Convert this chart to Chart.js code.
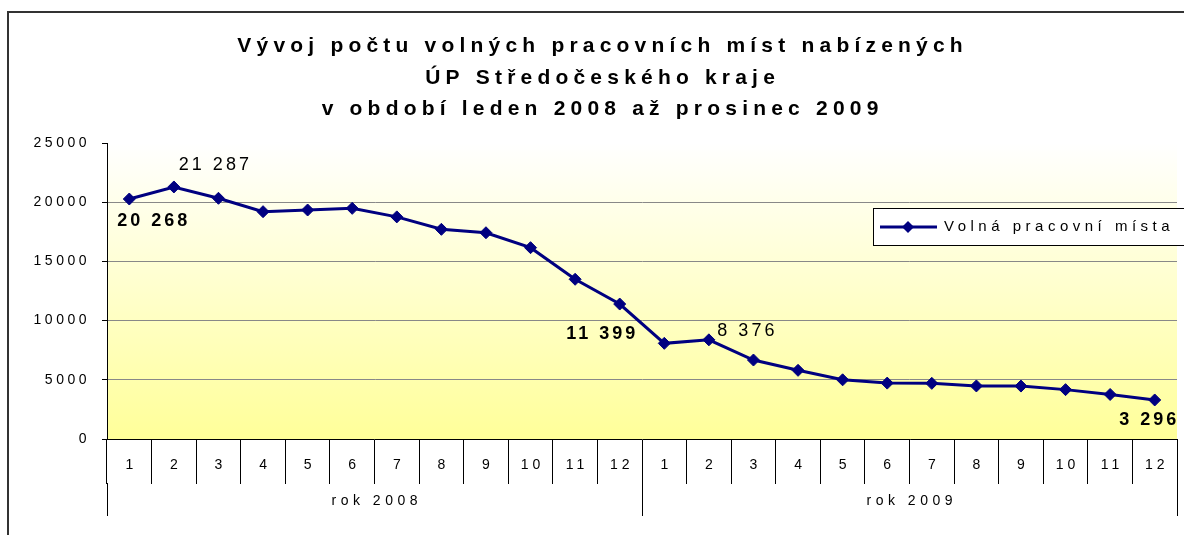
<!DOCTYPE html>
<html>
<head>
<meta charset="utf-8">
<script src="https://cdn.jsdelivr.net/npm/chart.js@4.4.1/dist/chart.umd.min.js"></script>
<style>
  html, body { margin: 0; padding: 0; background: #fff; }
  canvas { display: block; }
</style>
</head>
<body>
<canvas id="vacancyChart" width="1184" height="535"></canvas>
<script>
// data
const months = ['1','2','3','4','5','6','7','8','9','10','11','12',
                '1','2','3','4','5','6','7','8','9','10','11','12'];
const years = ['rok 2008', 'rok 2009'];
const vacancies = [20268, 21287, 20330, 19200, 19340, 19480, 18760, 17710, 17420, 16160, 13490, 11399,
                   8080, 8376, 6670, 5800, 5000, 4720, 4700, 4480, 4470, 4170, 3760, 3296];
const yTicks = [0, 5000, 10000, 15000, 20000, 25000];
const seriesName = 'Volná pracovní místa';
const titleLines = [
  'Vývoj počtu volných pracovních míst nabízených',
  'ÚP Středočeského kraje',
  'v období leden 2008 až prosinec 2009'
];

const FONT = '"Liberation Sans", Arial, sans-serif';
const NAVY = '#000080';

// which points carry a value label, and where it sits relative to the point
const pointLabels = [
  {i: 0,  dx: 23,  dy: 22,  bold: true},
  {i: 1,  dx: 40,  dy: -22, bold: false},
  {i: 11, dx: -19, dy: 30,  bold: true},
  {i: 13, dx: 37,  dy: -9,  bold: false},
  {i: 23, dx: -7,  dy: 20,  bold: true},
];

const fmt = v => String(v).replace(/\B(?=(\d{3})+(?!\d))/g, ' ');

function spacedText(ctx, text, x, y, font, spacing, align) {
  ctx.save();
  ctx.font = font;
  ctx.letterSpacing = spacing + 'px';
  ctx.fillStyle = '#000';
  ctx.textBaseline = 'middle';
  let w = ctx.measureText(text).width - spacing; // drop trailing space
  let left = align === 'left' ? x : (align === 'right' ? x - w : x - w / 2);
  ctx.textAlign = 'left';
  ctx.fillText(text, left, y);
  ctx.restore();
}

// yellow gradient behind the plot
const plotBackground = {
  id: 'plotBackground',
  beforeDraw(chart) {
    const {ctx, chartArea: a} = chart;
    ctx.save();
    ctx.fillStyle = '#fff';
    ctx.fillRect(0, 0, chart.width, chart.height);
    const g = ctx.createLinearGradient(0, a.top, 0, a.bottom);
    g.addColorStop(0, '#ffffff');
    g.addColorStop(1, '#ffff99');
    ctx.fillStyle = g;
    ctx.fillRect(a.left, a.top, a.right - a.left, a.bottom - a.top);
    ctx.restore();
    ctx.letterSpacing = '3.5px';
  }
};

// title, grouped x axis, value labels, legend and outer frame
const decorations = {
  id: 'decorations',
  afterDraw(chart) {
    const {ctx, chartArea: a} = chart;
    const x = chart.scales.x;
    ctx.letterSpacing = '0px';

    // title
    const titleY = [46, 78, 109];
    titleLines.forEach((t, k) => spacedText(ctx, t, 600, titleY[k], 'bold 21px ' + FONT, 5.2, 'center'));

    // month labels
    const half = (x.getPixelForValue(1) - x.getPixelForValue(0)) / 2;
    months.forEach((m, i) => spacedText(ctx, m, x.getPixelForValue(i), a.bottom + 26, '14px ' + FONT, 4, 'center'));

    // year groups
    ctx.save();
    ctx.strokeStyle = '#000';
    ctx.lineWidth = 1;
    years.forEach((yr, k) => {
      const l = x.getPixelForValue(k * 12) - half;
      const r = x.getPixelForValue(k * 12 + 11) + half;
      spacedText(ctx, yr, (l + r) / 2, a.bottom + 62, '14px ' + FONT, 4.5, 'center');
      [l, r].forEach(px => {
        ctx.beginPath();
        ctx.moveTo(Math.round(px) + 0.5, a.bottom + 44);
        ctx.lineTo(Math.round(px) + 0.5, a.bottom + 77);
        ctx.stroke();
      });
    });
    ctx.restore();

    // value labels
    const meta = chart.getDatasetMeta(0);
    pointLabels.forEach(p => {
      const pt = meta.data[p.i];
      spacedText(ctx, fmt(vacancies[p.i]), pt.x + p.dx, pt.y + p.dy,
        (p.bold ? 'bold ' : '') + '18px ' + FONT, 3, 'center');
    });

    // legend
    ctx.save();
    ctx.fillStyle = '#fff';
    ctx.fillRect(873, 208, 320, 37);
    ctx.strokeStyle = '#000';
    ctx.lineWidth = 1;
    ctx.strokeRect(873.5, 208.5, 320, 37);
    ctx.strokeStyle = NAVY;
    ctx.lineWidth = 3;
    ctx.beginPath();
    ctx.moveTo(880, 227);
    ctx.lineTo(937, 227);
    ctx.stroke();
    ctx.fillStyle = NAVY;
    ctx.beginPath();
    ctx.moveTo(908, 221); ctx.lineTo(914, 227); ctx.lineTo(908, 233); ctx.lineTo(902, 227);
    ctx.closePath();
    ctx.fill();
    ctx.restore();
    spacedText(ctx, seriesName, 944, 227, '15px ' + FONT, 4.5, 'left');

    // outer frame
    ctx.save();
    ctx.strokeStyle = '#333';
    ctx.lineWidth = 2;
    ctx.strokeRect(8, 12, 1200, 540);
    ctx.restore();
  }
};

const chart = new Chart(document.getElementById('vacancyChart'), {
  type: 'line',
  data: {
    labels: months,
    datasets: [{
      label: seriesName,
      data: vacancies,
      borderColor: NAVY,
      backgroundColor: NAVY,
      borderWidth: 3,
      pointStyle: 'rectRot',
      pointRadius: 6,
      pointBorderWidth: 1,
      tension: 0,
    }]
  },
  options: {
    responsive: false,
    animation: false,
    devicePixelRatio: 1,
    layout: { padding: { left: 8, top: 143, right: 7, bottom: 0 } },
    plugins: {
      legend: { display: false },
      title: { display: false },
      tooltip: { enabled: false },
    },
    scales: {
      x: {
        offset: true,
        grid: { offset: true, drawOnChartArea: false, tickLength: 45, color: '#000', lineWidth: 1 },
        border: { color: '#000' },
        ticks: { display: false },
        afterFit: s => { s.height = 96; },
      },
      y: {
        min: yTicks[0],
        max: yTicks[yTicks.length - 1],
        afterBuildTicks: s => { s.ticks = yTicks.map(v => ({value: v})); },
        ticks: { color: '#000', font: { family: FONT, size: 14 }, padding: 12, callback: v => String(v) },
        grid: {
          color: c => (c.tick && (c.tick.value === 0 || c.tick.value === 25000)) ? 'rgba(0,0,0,0)' : '#888',
          tickColor: '#000',
          tickLength: 5,
        },
        border: { color: '#000' },
        afterFit: s => { s.width = 99; },
      }
    }
  },
  plugins: [plotBackground, decorations]
});
</script>
</body>
</html>
